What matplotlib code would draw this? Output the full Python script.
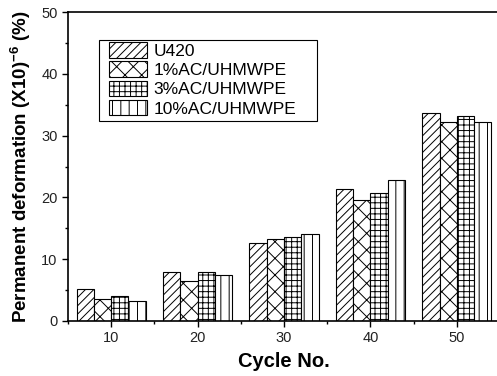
import numpy as np
import matplotlib
matplotlib.use("Agg")
import matplotlib.pyplot as plt
from matplotlib.ticker import MultipleLocator
from matplotlib.patches import Rectangle

plt.rcParams["font.family"] = ["Liberation Sans", "DejaVu Sans"]
plt.rcParams["hatch.linewidth"] = 0.7
plt.rcParams["mathtext.fontset"] = "custom"
plt.rcParams["mathtext.bf"] = "Liberation Sans:bold"
plt.rcParams["mathtext.rm"] = "Liberation Sans"

cycles = [10, 20, 30, 40, 50]
u420 = [5.1, 7.9, 12.6, 21.4, 33.6]
ac1 = [3.6, 6.5, 13.3, 19.6, 32.2]
ac3 = [4.0, 7.9, 13.6, 20.7, 33.1]
ac10 = [3.2, 7.5, 14.1, 22.8, 32.2]

series = [("U420", u420, "////"),
          ("1%AC/UHMWPE", ac1, "xx"),
          ("3%AC/UHMWPE", ac3, "+++"),
          ("10%AC/UHMWPE", ac10, "||")]

fig = plt.figure(figsize=(4.97, 3.76), dpi=100)
ax = fig.add_axes([68/497, 55/376, 432/497, 309/376])

x = np.array(cycles, dtype=float)
w = 2.0
for i, (name, vals, hatch) in enumerate(series):
    ax.bar(x + (i - 1.5) * w, vals, width=w, facecolor="white",
           edgecolor="black", linewidth=0.8, hatch=hatch, label=name)

ax.set_xlim(5, 55)
ax.set_ylim(0, 50)
ax.set_xticks(cycles)
ax.xaxis.set_minor_locator(MultipleLocator(5))
ax.yaxis.set_major_locator(MultipleLocator(10))
ax.yaxis.set_minor_locator(MultipleLocator(5))
ax.tick_params(which="both", direction="out", labelsize=10.5, width=1,
               labelcolor="#222222")
ax.tick_params(which="major", length=4)
ax.tick_params(which="minor", length=2.5)
for s in ax.spines.values():
    s.set_linewidth(1.2)

ax.set_xlabel("Cycle No.", fontsize=14.5, fontweight="bold", labelpad=5)
ax.set_ylabel(r"Permanent deformation (X10)$^{\mathbf{-6}}$ (%)", fontsize=13.5,
              fontweight="bold", labelpad=6)

# legend without its own frame; box drawn separately (wider, like Origin)
leg = ax.legend(loc="upper left", bbox_to_anchor=(0.095, 0.903), fontsize=12.5,
                frameon=False, handlelength=2.2, handleheight=1.0,
                handletextpad=0.35, labelspacing=0.15, borderpad=0,
                borderaxespad=0)
ax.add_patch(Rectangle((0.072, 0.647), 0.505, 0.262, transform=ax.transAxes,
                       fill=False, edgecolor="black", linewidth=0.8, zorder=4))

fig.savefig("out.png", dpi=100)
